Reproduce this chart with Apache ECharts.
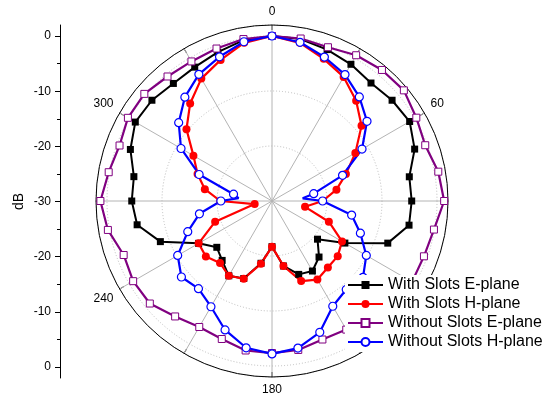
<!DOCTYPE html>
<html>
<head>
<meta charset="utf-8">
<script src="https://cdn.jsdelivr.net/npm/echarts@6/dist/echarts.min.js"></script>
<style>
  html, body { margin: 0; padding: 0; background: #fff; }
  #chart { width: 545px; height: 402px; }
</style>
</head>
<body>
<div id="chart"></div>
<script>
// Radiation patterns (dB) sampled every 10 degrees
const angles = [0, 10, 20, 30, 40, 50, 60, 70, 80, 90, 100, 110, 120, 130, 140, 150, 160, 170,
                180, 190, 200, 210, 220, 230, 240, 250, 260, 270, 280, 290, 300, 310, 320, 330, 340, 350];

const withSlotsE = [0, -0.1, -0.7, -1.3, -2.0, -1.5, -1.1, -2.4, -4.65, -4.6, -4.7, -7.6, -14.7, -19.2, -16.7, -15.3, -15.8, -18.0,
                    -21.7, -18.5, -15.0, -14.3, -15.9, -16.9, -14.6, -8.4, -5.1, -4.5, -4.5, -2.6, -1.3, -1.5, -2.1, -1.9, -1.2, -0.3];

const withSlotsH = [0, -0.8, -2.5, -3.95, -6.2, -8.75, -12.5, -15.7, -18.1, -20.8, -23.9, -19.0, -15.3, -14.4, -14.2, -13.5, -14.5, -18.0,
                    -21.7, -18.4, -14.95, -14.3, -15.3, -14.3, -14.6, -19.0, -26.8, -20.6, -17.6, -15.6, -13.5, -9.7, -6.85, -4.3, -2.7, -0.8];

const withoutSlotsE = [0, 0.0, -0.25, 0.6, 1.1, 1.3, 0.3, -0.35, 0.7, 1.3, -0.1, -0.6, -0.6, -1.0, -2.0, -3.0, -3.2, -2.5,
                       -2.35, -2.4, -3.3, -3.55, -2.6, -1.0, -0.85, -1.3, 0.3, 1.2, 0.15, -0.5, 0.25, 0.3, -0.45, -0.7, -0.5, -0.1];

const withoutSlotsH = [0, -0.7, -2.15, -3.45, -5.3, -7.45, -11.1, -16.35, -22.3, -20.8, -15.3, -12.9, -10.2, -8.4, -9.0, -7.9, -4.6, -2.85,
                       -2.2, -2.9, -5.05, -7.8, -9.2, -8.5, -10.2, -13.7, -16.6, -20.7, -22.9, -15.9, -10.9, -7.85, -5.35, -3.4, -2.1, -0.6];

// extra unmarked samples at the two deep nulls of the H-plane pattern without slots
const withoutSlotsHNullAngles = [85, 275];
const withoutSlotsHNullValues = [-24.4, -23.9];

// radial scale ticks and the labels of the left dB scale
const radialTicks = [-30, -20, -10, 0, 10, 20, 30];
const radialMinorTicks = [-25, -15, -5, 5, 15, 25];
const angleLabels = [0, 60, 120, 180, 240, 300];

const seriesNames = ['With Slots E-plane', 'With Slots H-plane', 'Without Slots E-plane', 'Without Slots H-plane'];

// closed ring of [radius, angle] points, optional extra points drawn without a marker
function ring(values, extraAngles, extraValues) {
  const pts = angles.map((a, i) => ({ value: [values[i], a] }));
  (extraAngles || []).forEach((a, i) => pts.push({ value: [extraValues[i], a], symbol: 'none' }));
  pts.sort((p, q) => p.value[1] - q.value[1]);
  pts.push({ value: [values[0], 360], symbol: 'none' });
  return pts;
}

const FONT = 'Liberation Sans, Arial, sans-serif';
const chart = echarts.init(document.getElementById('chart'), null, { renderer: 'canvas' });

chart.setOption({
  animation: false,
  backgroundColor: '#fff',
  polar: { center: [272, 201], radius: 176 },
  angleAxis: {
    type: 'value', min: 0, max: 360, interval: 30,
    startAngle: 90, clockwise: true,
    axisLine: { lineStyle: { color: '#000', width: 1 } },
    axisTick: { show: true, inside: true, length: 5, lineStyle: { color: '#000', width: 1 } },
    axisLabel: {
      margin: 7, color: '#000', fontSize: 12, fontFamily: FONT,
      formatter: v => (angleLabels.indexOf(v) >= 0 ? String(v) : '')
    },
    splitLine: { show: true, lineStyle: { color: '#b4b4b4', width: 1 } }
  },
  radiusAxis: {
    type: 'value', min: -30, max: 2, interval: 10,
    axisLine: { show: false }, axisTick: { show: false }, axisLabel: { show: false },
    splitLine: { show: true, lineStyle: { color: '#bdbdbd', type: [1, 2], width: 1 } }
  },
  grid: { left: 60, top: 25, width: 1, height: 353 },
  xAxis: { type: 'value', show: false, min: 0, max: 1 },
  yAxis: [
    {
      type: 'value', min: -32, max: 32, position: 'left',
      name: 'dB', nameLocation: 'middle', nameGap: 34, nameRotate: 90,
      nameTextStyle: { color: '#000', fontSize: 14, fontFamily: FONT },
      axisLine: { show: true, lineStyle: { color: '#000', width: 1 } },
      axisTick: { show: true, length: 5, customValues: radialTicks, lineStyle: { color: '#000' } },
      axisLabel: {
        margin: 9, color: '#000', fontSize: 12, fontFamily: FONT,
        customValues: radialTicks,
        formatter: v => String(Math.abs(v) - 30)
      },
      splitLine: { show: false }
    },
    {
      type: 'value', min: -32, max: 32, position: 'left',
      axisLine: { show: false },
      axisTick: { show: true, length: 3, customValues: radialMinorTicks, lineStyle: { color: '#000' } },
      axisLabel: { show: false },
      splitLine: { show: false }
    }
  ],
  legend: {
    orient: 'vertical', left: 345, top: 275,
    backgroundColor: '#fff', padding: [2, 4, 2, 2],
    itemWidth: 35, itemHeight: 10, itemGap: 3,
    textStyle: { color: '#000', fontSize: 16, fontFamily: FONT },
    data: seriesNames
  },
  series: [
    {
      name: seriesNames[0], type: 'line', coordinateSystem: 'polar',
      data: ring(withSlotsE),
      symbol: 'rect', symbolSize: 7, showAllSymbol: true,
      lineStyle: { color: '#000', width: 2 },
      itemStyle: { color: '#000' }
    },
    {
      name: seriesNames[1], type: 'line', coordinateSystem: 'polar',
      data: ring(withSlotsH),
      symbol: 'circle', symbolSize: 8, showAllSymbol: true,
      lineStyle: { color: '#ff0000', width: 2.2 },
      itemStyle: { color: '#ff0000' }
    },
    {
      name: seriesNames[2], type: 'line', coordinateSystem: 'polar',
      data: ring(withoutSlotsE),
      symbol: 'rect', symbolSize: 7, showAllSymbol: true,
      lineStyle: { color: '#800080', width: 2.2 },
      itemStyle: { color: '#fff', borderColor: '#800080', borderWidth: 1 }
    },
    {
      name: seriesNames[3], type: 'line', coordinateSystem: 'polar',
      data: ring(withoutSlotsH, withoutSlotsHNullAngles, withoutSlotsHNullValues),
      symbol: 'circle', symbolSize: 8, showAllSymbol: true,
      lineStyle: { color: '#0000ff', width: 2.2 },
      itemStyle: { color: '#fff', borderColor: '#0000ff', borderWidth: 1.2 }
    }
  ]
});
</script>
</body>
</html>
